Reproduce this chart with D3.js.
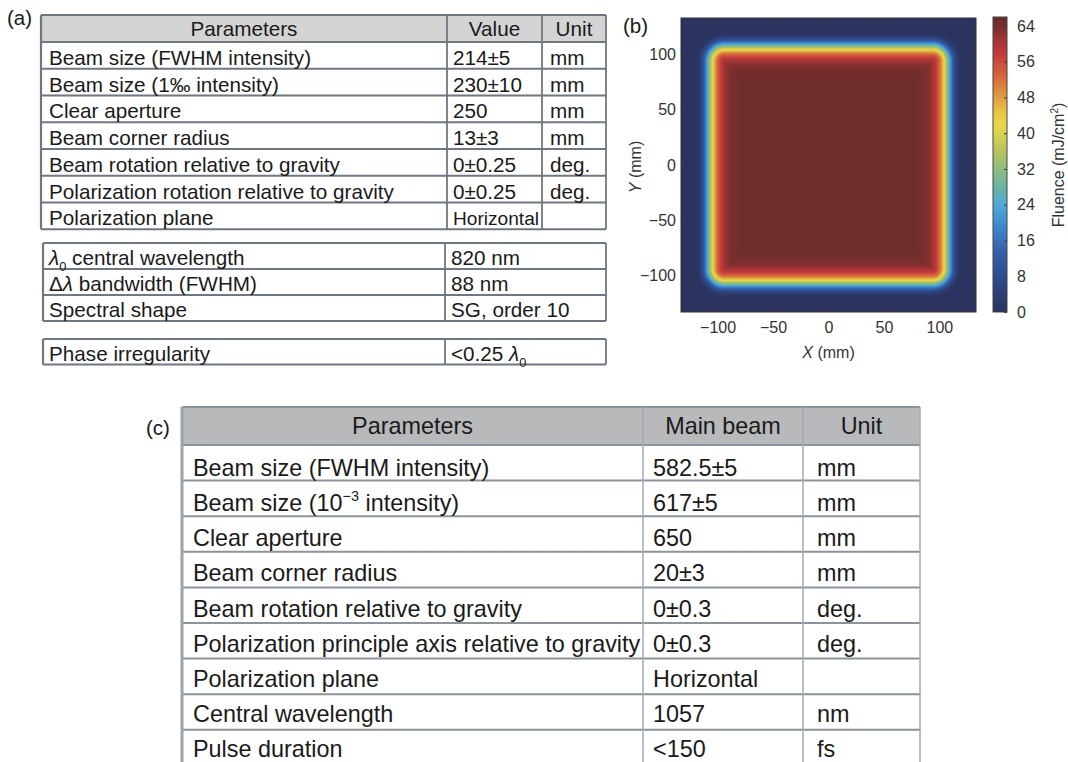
<!DOCTYPE html>
<html>
<head>
<meta charset="utf-8">
<script src="https://cdn.jsdelivr.net/npm/d3@7"></script>
<style>
  html, body { margin: 0; padding: 0; background: #fff; }
  svg { display: block; font-family: "Liberation Sans", Arial, Helvetica, sans-serif; }
</style>
</head>
<body>
<svg id="fig" width="1068" height="762"></svg>
<script>
// ---------- (a) front-end laser parameters ----------
const tableAHeader = ["Parameters", "Value", "Unit"];
const tableAParams = [
  "Beam size (FWHM intensity)",
  "Beam size (1‰ intensity)",
  "Clear aperture",
  "Beam corner radius",
  "Beam rotation relative to gravity",
  "Polarization rotation relative to gravity",
  "Polarization plane"
];
const tableAValues = ["214±5", "230±10", "250", "13±3", "0±0.25", "0±0.25", "Horizontal"];
const tableAUnits = ["mm", "mm", "mm", "mm", "deg.", "deg.", ""];

// markup: *x* italic, _n subscript, ^n superscript
const spectralParams = ["*λ*_0 central wavelength", "Δ*λ* bandwidth (FWHM)", "Spectral shape"];
const spectralValues = ["820 nm", "88 nm", "SG, order 10"];
const phaseParams = ["Phase irregularity"];
const phaseValues = ["<0.25 *λ*_0"];

// ---------- (c) main beam parameters ----------
const tableCHeader = ["Parameters", "Main beam", "Unit"];
const tableCParams = [
  "Beam size (FWHM intensity)",
  "Beam size (10^−3 intensity)",
  "Clear aperture",
  "Beam corner radius",
  "Beam rotation relative to gravity",
  "Polarization principle axis relative to gravity",
  "Polarization plane",
  "Central wavelength",
  "Pulse duration"
];
const tableCValues = ["582.5±5", "617±5", "650", "20±3", "0±0.3", "0±0.3", "Horizontal", "1057", "<150"];
const tableCUnits = ["mm", "mm", "mm", "mm", "deg.", "deg.", "", "nm", "fs"];

// ---------- (b) fluence map ----------
const beamSizeFWHM = 214;     // mm, full width at half maximum
const beamCornerRadius = 13;  // mm
const edgeExponent = 18;      // super-Gaussian exponent of the flat-top edge
const peakFluence = 65;       // mJ/cm²
const mapExtent = [-133, 133];
const axisTicks = [-100, -50, 0, 50, 100];
const fluenceTicks = [0, 8, 16, 24, 32, 40, 48, 56, 64];
const fluenceMax = 66;
const colourStopValues = [0, 7.5, 13.5, 19.5, 24, 28, 32, 36, 42, 45, 49, 53.5, 58, 61, 63.5, 66];
const colourStopColours = ["#2b335e", "#2f4a8e", "#3460aa", "#3f8ad0", "#4fa9d8", "#6cb3a2", "#8dbc7c",
  "#b8c45e", "#ead84a", "#e6c244", "#dc9040", "#d4603a", "#c23a3c", "#a33434", "#7e2f2f", "#672b2b"];

const svg = d3.select("#fig");
svg.append("rect").attr("width", 1068).attr("height", 762).attr("fill", "#fff");

// Writes a string with light markup into a <text> element as tspans.
function richText(textSel, str, fs) {
  const re = /\*([^*]+)\*|_(\d+)|\^([−\-\d]+)|([^*_^]+)/g;
  let m, shift = 0;
  while ((m = re.exec(str)) !== null) {
    const t = textSel.append("tspan");
    let target = 0;
    if (m[1]) { t.text(m[1]).attr("font-style", "italic"); }
    else if (m[2]) { t.text(m[2]).attr("font-size", fs * 0.62); target = fs * 0.3; }
    else if (m[3]) { t.text(m[3]).attr("font-size", fs * 0.62); target = -fs * 0.42; }
    else { t.text(m[4]); }
    const dy = target - shift;
    if (dy !== 0) t.attr("dy", dy);
    shift = target;
  }
}

// Generic bordered table: cols are column edges, rows are arrays of cell strings.
function drawTable(parent, o) {
  const g = parent.append("g");
  const nRows = o.rows.length;
  const hasHeader = !!o.header;
  const bodyTop = o.top + (hasHeader ? o.headerH : 0);
  const yRow = d3.scaleBand().domain(d3.range(nRows)).range([bodyTop, bodyTop + nRows * o.rowH]).paddingInner(0);
  const textStep = o.textStep || o.rowH;
  const bottom = bodyTop + nRows * o.rowH;
  const left = o.cols[0], right = o.cols[o.cols.length - 1];

  g.append("rect").attr("x", left).attr("y", o.top).attr("width", right - left)
    .attr("height", bottom - o.top).attr("fill", "#fff");
  if (hasHeader) {
    g.append("rect").attr("x", left).attr("y", o.top).attr("width", right - left)
      .attr("height", o.headerH).attr("fill", o.headerFill);
  }

  // horizontal rules
  const hLines = [o.top].concat(hasHeader ? [bodyTop] : []).concat(d3.range(nRows).map(i => yRow(i) + o.rowH));
  g.selectAll("line.h").data(hLines).join("line")
    .attr("x1", left).attr("x2", right).attr("y1", d => d).attr("y2", d => d)
    .attr("stroke", o.hColor).attr("stroke-width", o.hWidth);
  // vertical rules
  g.selectAll("line.v").data(o.cols).join("line")
    .attr("x1", d => d).attr("x2", d => d).attr("y1", o.top).attr("y2", bottom)
    .attr("stroke", (d, i) => i === 0 ? o.leftColor : o.vColor)
    .attr("stroke-width", (d, i) => i === 0 ? o.leftWidth : o.vWidth);

  if (hasHeader) {
    o.header.forEach((h, j) => {
      g.append("text").attr("x", (o.cols[j] + o.cols[j + 1]) / 2)
        .attr("y", o.top + o.headerH - o.headerBase)
        .attr("text-anchor", "middle").attr("font-size", o.fs).attr("fill", "#1a1a1a").text(h);
    });
  }
  o.rows.forEach((row, i) => {
    row.forEach((cell, j) => {
      if (!cell) return;
      const t = g.append("text").attr("x", o.cols[j] + o.pad[j])
        .attr("y", bodyTop + (i + 1) * textStep - o.base)
        .attr("font-size", o.fs).attr("fill", "#1a1a1a");
      richText(t, cell, o.fs);
      if (o.fit) {
        const avail = o.cols[j + 1] - o.cols[j] - o.pad[j] - 3;
        const len = t.node().getComputedTextLength();
        if (len > avail) t.attr("font-size", o.fs * avail / len);
      }
    });
  });
  return g;
}

// ---------- panel (a) ----------
const aStyle = {
  fs: 20.7, headerFill: "#d4d4d4", hColor: "#6f7780", hWidth: 1.8, vColor: "#6f7780", vWidth: 1.8,
  leftColor: "#6f7780", leftWidth: 2.2, headerBase: 6, base: 4, fit: true
};
drawTable(svg, Object.assign({}, aStyle, {
  cols: [41, 447, 542, 606], top: 15, headerH: 27, rowH: 26.75,
  header: tableAHeader, pad: [8, 6, 8],
  rows: tableAParams.map((p, i) => [p, tableAValues[i], tableAUnits[i]])
}));
drawTable(svg, Object.assign({}, aStyle, {
  cols: [43, 445, 606], top: 243, rowH: 26, pad: [6, 6],
  rows: spectralParams.map((p, i) => [p, spectralValues[i]])
}));
drawTable(svg, Object.assign({}, aStyle, {
  cols: [43, 445, 606], top: 339, rowH: 25.5, pad: [6, 6],
  rows: phaseParams.map((p, i) => [p, phaseValues[i]])
}));

// ---------- panel (c) ----------
drawTable(svg, {
  cols: [182, 643, 803, 920], top: 407, headerH: 38, rowH: 35.6, textStep: 35.1,
  header: tableCHeader, pad: [11, 10, 14],
  rows: tableCParams.map((p, i) => [p, tableCValues[i], tableCUnits[i]]),
  fs: 23.4, headerFill: "#b8b9ba", hColor: "#8b939b", hWidth: 2, vColor: "#a3abb2", vWidth: 1.5,
  leftColor: "#9aa2aa", leftWidth: 3, headerBase: 11, base: 4, fit: false
});

// panel letters
[["(a)", 7, 25], ["(b)", 623, 33], ["(c)", 146, 435]].forEach(([s, px, py]) => {
  svg.append("text").attr("x", px).attr("y", py).attr("font-size", 20.5).attr("fill", "#1a1a1a").text(s);
});

// ---------- panel (b): fluence map ----------
const gB = svg.append("g");
const x = d3.scaleLinear().domain(mapExtent).range([681, 976]);
const y = d3.scaleLinear().domain(mapExtent).range([312, 18]);
const colour = d3.scaleLinear().domain(colourStopValues).range(colourStopColours)
  .interpolate(d3.interpolateRgb).clamp(true);

// super-Gaussian flat-top with rounded corners
const halfWidth = beamSizeFWHM / 2;
const coreHalf = halfWidth - beamCornerRadius;
function fluence(px, py) {
  const ax = Math.abs(px), ay = Math.abs(py);
  const dx = Math.max(ax - coreHalf, 0), dy = Math.max(ay - coreHalf, 0);
  const r = (dx > 0 || dy > 0) ? coreHalf + Math.hypot(dx, dy) : Math.max(ax, ay);
  return peakFluence * Math.exp(-Math.LN2 * Math.pow(r / halfWidth, edgeExponent));
}

const [px0, px1] = x.range();
const [py1, py0] = y.range();
const w = Math.round(px1 - px0), h = Math.round(py1 - py0);
const canvas = document.createElement("canvas");
canvas.width = w; canvas.height = h;
const ctx = canvas.getContext("2d");
const img = ctx.createImageData(w, h);
for (let j = 0; j < h; j++) {
  const Y = y.invert(py0 + j + 0.5);
  for (let i = 0; i < w; i++) {
    const X = x.invert(px0 + i + 0.5);
    const c = d3.rgb(colour(fluence(X, Y)));
    const k = (j * w + i) * 4;
    img.data[k] = c.r; img.data[k + 1] = c.g; img.data[k + 2] = c.b; img.data[k + 3] = 255;
  }
}
ctx.putImageData(img, 0, 0);
gB.append("image").attr("x", px0).attr("y", py0).attr("width", w).attr("height", h)
  .attr("preserveAspectRatio", "none").attr("href", canvas.toDataURL());

function styleAxis(sel, withText) {
  sel.select(".domain").remove();
  sel.selectAll(".tick line").attr("stroke", "#3a3a3a").attr("stroke-width", 1);
  sel.selectAll(".tick text").attr("font-size", 16).attr("fill", "#333")
    .attr("font-family", "\"Liberation Sans\", Arial, sans-serif");
  if (!withText) sel.selectAll(".tick text").remove();
}
gB.append("g").attr("transform", `translate(0,${py1})`)
  .call(d3.axisBottom(x).tickValues(axisTicks).tickSizeInner(-4).tickSizeOuter(0).tickPadding(10))
  .call(s => styleAxis(s, true));
gB.append("g").attr("transform", `translate(0,${py0})`)
  .call(d3.axisTop(x).tickValues(axisTicks).tickSizeInner(-4).tickSizeOuter(0))
  .call(s => styleAxis(s, false));
gB.append("g").attr("transform", `translate(${px0},0)`)
  .call(d3.axisLeft(y).tickValues(axisTicks).tickSizeInner(-4).tickSizeOuter(0).tickPadding(5))
  .call(s => styleAxis(s, true));
gB.append("g").attr("transform", `translate(${px1},0)`)
  .call(d3.axisRight(y).tickValues(axisTicks).tickSizeInner(-4).tickSizeOuter(0))
  .call(s => styleAxis(s, false));
gB.append("rect").attr("x", px0).attr("y", py0).attr("width", w).attr("height", h)
  .attr("fill", "none").attr("stroke", "#333").attr("stroke-width", 1);

// axis titles
const xt = gB.append("text").attr("x", (px0 + px1) / 2).attr("y", 358).attr("text-anchor", "middle")
  .attr("font-size", 16).attr("fill", "#333");
xt.append("tspan").attr("font-style", "italic").text("X");
xt.append("tspan").text(" (mm)");
const yt = gB.append("text").attr("transform", `translate(641,167) rotate(-90)`).attr("text-anchor", "middle")
  .attr("font-size", 16).attr("fill", "#333");
yt.append("tspan").attr("font-style", "italic").text("Y");
yt.append("tspan").text(" (mm)");

// colour bar
const cb = d3.scaleLinear().domain([0, fluenceMax]).range([312, 17]);
const cbX = 993, cbW = 14;
const grad = svg.append("defs").append("linearGradient").attr("id", "fluenceGrad")
  .attr("x1", 0).attr("y1", 1).attr("x2", 0).attr("y2", 0);
grad.selectAll("stop").data(colourStopValues).join("stop")
  .attr("offset", d => d / fluenceMax).attr("stop-color", d => colour(d));
gB.append("rect").attr("x", cbX).attr("y", cb(fluenceMax)).attr("width", cbW)
  .attr("height", cb(0) - cb(fluenceMax)).attr("fill", "url(#fluenceGrad)");
gB.append("g").attr("transform", `translate(${cbX + cbW},0)`)
  .call(d3.axisRight(cb).tickValues(fluenceTicks).tickSizeInner(-3).tickSizeOuter(0).tickPadding(10))
  .call(s => styleAxis(s, true));
gB.append("rect").attr("x", cbX).attr("y", cb(fluenceMax)).attr("width", cbW)
  .attr("height", cb(0) - cb(fluenceMax)).attr("fill", "none").attr("stroke", "#444").attr("stroke-width", 1);
const ct = gB.append("text").attr("transform", `translate(1064,165) rotate(-90)`).attr("text-anchor", "middle")
  .attr("font-size", 16).attr("fill", "#333");
ct.append("tspan").text("Fluence (mJ/cm");
ct.append("tspan").attr("font-size", 10).attr("dy", -6).text("2");
ct.append("tspan").attr("dy", 6).text(")");
</script>
</body>
</html>
